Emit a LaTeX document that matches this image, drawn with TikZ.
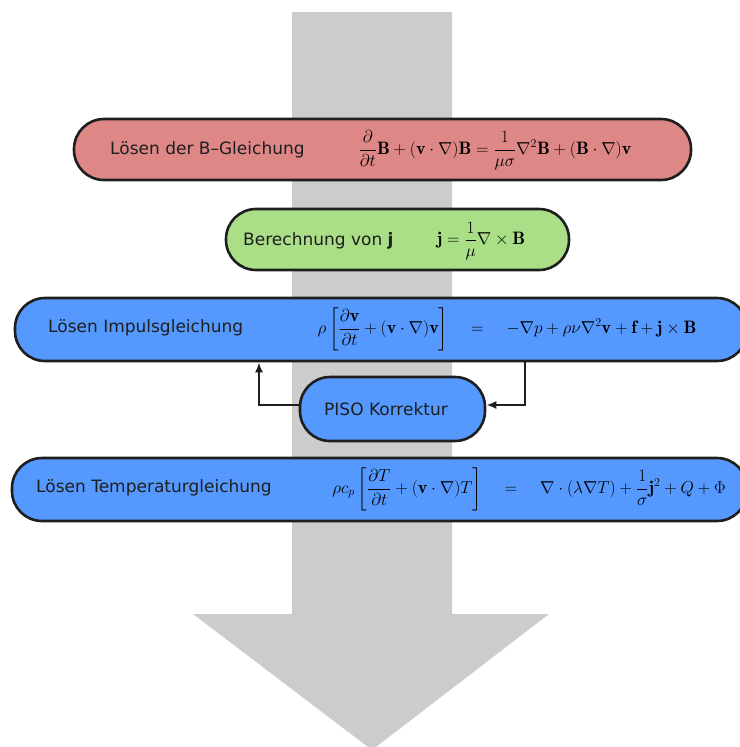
\documentclass[tikz,border=0pt]{standalone}
\usepackage{amsmath}
\usepackage{amssymb}
\usepackage{bm}
\usepackage{fontspec}
\usetikzlibrary{
    arrows.meta,
    positioning,
    calc
}
\newfontfamily\labelfont{DejaVu Sans}
\definecolor{PastelRed}{RGB}{222,135,135}
\definecolor{PastelGreen}{RGB}{170,222,135}
\definecolor{PastelBlue}{RGB}{85,153,255}
\definecolor{ArrowGray}{RGB}{204,204,204}
\definecolor{BoxLine}{RGB}{30,30,30}
\newcommand{\vect}[1]{\mathbf{#1}}

\begin{document}
\begin{tikzpicture}[
    >=Latex,
    x=1pt, y=-1pt,
    stage/.style={draw=BoxLine, line width=2.6pt, rounded corners=30pt,
        inner sep=0pt},
    flow/.style={->, line width=2.8pt, BoxLine, line cap=rect,
        >={Latex[length=10pt, width=8pt]}},
    lbl/.style={font=\labelfont\fontsize{17}{20}\selectfont, text=BoxLine,
        inner sep=0pt},
    eqn/.style={font=\fontsize{18}{21}\selectfont, inner sep=0pt}
]

\useasboundingbox (0,0) rectangle (739,747);

% big arrow in the back
\fill[ArrowGray]
    (292,12) -- (452,12) -- (452,614) -- (549,614)
    -- (372,750) -- (193,614) -- (292,614) -- cycle;

% stages
\node[stage, fill=PastelRed, minimum width=617pt, minimum height=61pt]
    (induction) at (382.5,149.5) {};
\node[stage, fill=PastelGreen, minimum width=343pt, minimum height=61pt]
    (current) at (397.5,239.5) {};
\node[stage, fill=PastelBlue, minimum width=732pt, minimum height=63pt]
    (impuls) at (381,329.5) {};
\node[stage, fill=PastelBlue, minimum width=185pt, minimum height=64pt]
    (piso) at (392.5,409) {};
\node[stage, fill=PastelBlue, minimum width=735pt, minimum height=63pt]
    (temp) at (379.5,489.5) {};

% labels
\node[lbl, anchor=west] (inductionL) at (110,150) {Lösen der B–Gleichung};
\node[eqn] (inductionE) at (495,150)
    {$\displaystyle \frac{\partial}{\partial t}\vect{B}
    + (\vect{v}\cdot\nabla)\vect{B}
    = \frac{1}{\mu\sigma}\nabla^2\vect{B}
    + (\vect{B}\cdot\nabla)\vect{v}$};

\node[lbl, anchor=west] (currentL) at (243,241)
    {Berechnung von \textbf{j}};
\node[eqn] (currentE) at (481,241)
    {$\displaystyle \vect{j} = \frac{1}{\mu}\nabla\times\vect{B}$};

\node[lbl, anchor=west] (impulsL) at (48,328) {Lösen Impulsgleichung};
\node[eqn] (impulsE) at (507,329)
    {$\displaystyle \rho\left[\frac{\partial\vect{v}}{\partial t}
    + (\vect{v}\cdot\nabla)\vect{v}\right]
    \quad = \quad -\nabla p + \rho\nu\nabla^2\vect{v}
    + \vect{f} + \vect{j}\times\vect{B}$};

\node[lbl] (pisoL) at (386,409) {PISO Korrektur};

\node[lbl, anchor=west] (tempL) at (36,488) {Lösen Temperaturgleichung};
\node[eqn] (tempE) at (529,489)
    {$\displaystyle \rho c_p\left[\frac{\partial T}{\partial t}
    + (\vect{v}\cdot\nabla)T\right]
    \quad = \quad \nabla\cdot(\lambda\nabla T)
    + \frac{1}{\sigma}\vect{j}^2 + Q + \Phi$};

% PISO loop
\draw[flow]
    ([yshift=4pt]piso.west) -| ([xshift=-122pt]impuls.south);
\draw[flow]
    ([xshift=144pt]impuls.south) |- ([yshift=4pt]piso.east);

\end{tikzpicture}
\end{document}
